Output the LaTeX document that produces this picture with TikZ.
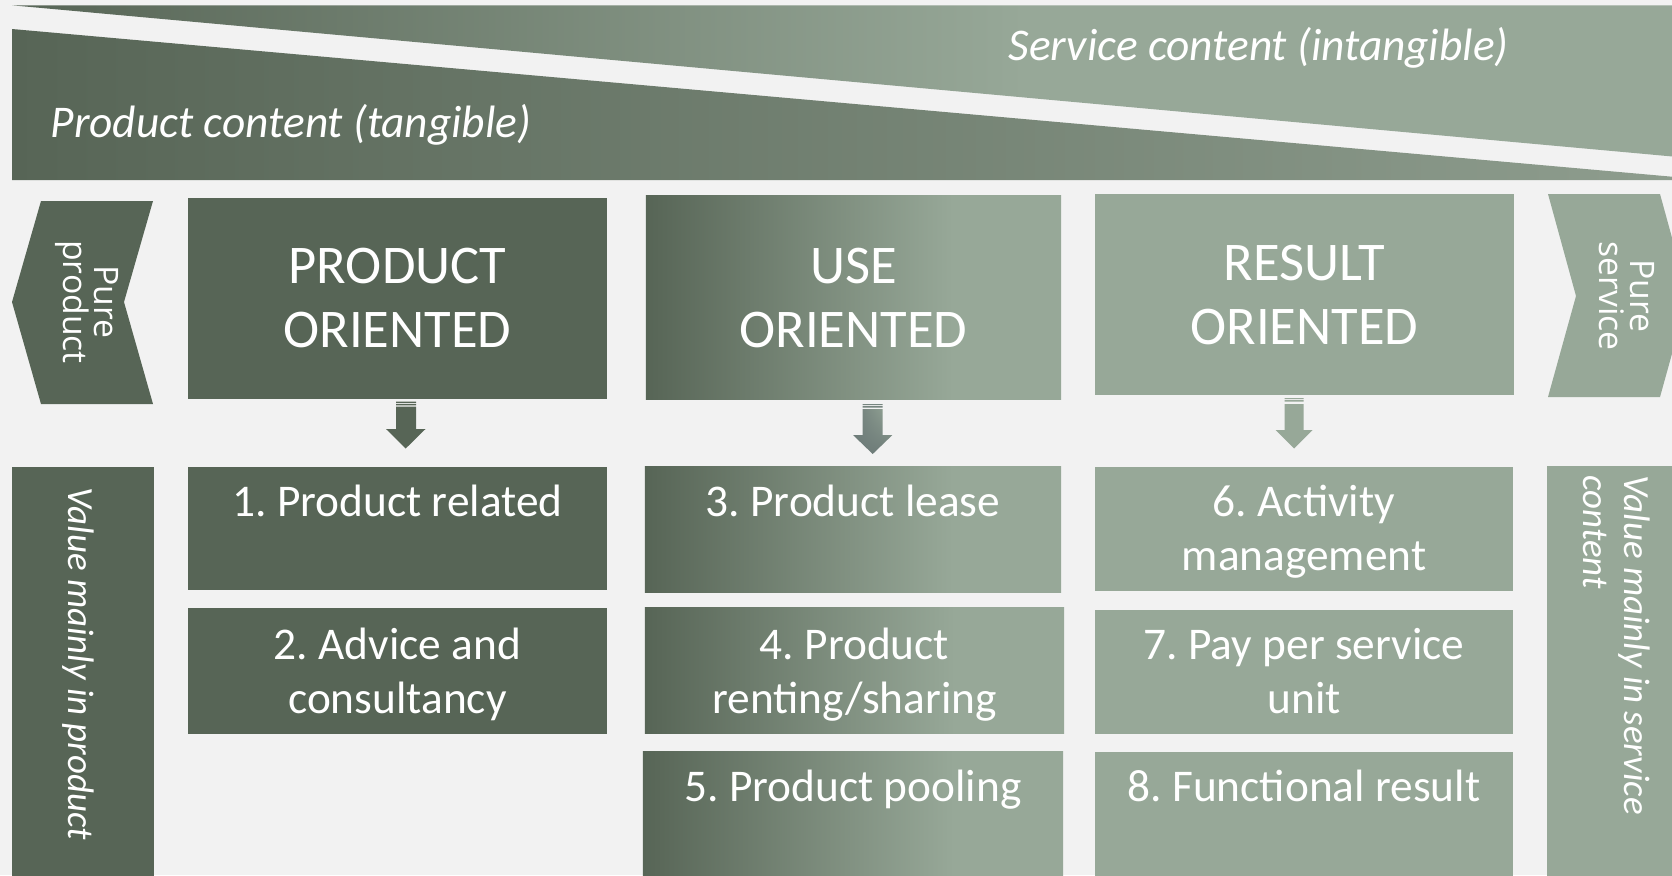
\documentclass[tikz,border=0pt]{standalone}
\usepackage{fontspec}
\setmainfont{Carlito}
\newfontfamily\pureFont{Open Sans}
\usepackage{tikz}
\usetikzlibrary{shadings}

\definecolor{ppdark}{HTML}{576556}
\definecolor{pplight}{HTML}{97A898}
\definecolor{ppmid}{HTML}{8E9D8E}
\definecolor{ppback}{HTML}{F2F2F2}
\definecolor{arrgrey}{HTML}{6E7C79}

\pgfdeclarehorizontalshading{servfade}{100bp}{color(0bp)=(ppdark); color(25bp)=(ppdark); color(55bp)=(pplight); color(100bp)=(pplight)}
\pgfdeclarehorizontalshading{usefade}{100bp}{color(0bp)=(ppdark); color(25bp)=(ppdark); color(62bp)=(pplight); color(100bp)=(pplight)}

\tikzset{
  headbox/.style={rectangle, inner sep=0pt, text=white, align=center,
                  font=\fontsize{15.5}{18.2}\selectfont},
  cellbox/.style={rectangle, inner sep=0pt},
  celltext/.style={text=white, align=flush center, text width=4.1cm, inner sep=0pt,
                   anchor=base, font=\fontsize{12.9}{15.3}\selectfont\frenchspacing},
  bandtext/.style={text=white, inner sep=0pt, anchor=base west,
                   font=\fontsize{12.9}{15}\selectfont\itshape},
  sidetext/.style={text=white, inner sep=0pt, rotate=-90,
                   font=\fontsize{10.5}{11.7}\selectfont\itshape},
  puretext/.style={text=white, inner sep=0pt, rotate=-90, align=center,
                   font=\pureFont\fontsize{9.6}{8.8}\selectfont},
  usefill/.style={shade, shading=usefade}
}

\begin{document}
\begin{tikzpicture}[x=0.01cm, y=-0.01cm]
        \useasboundingbox (0,0) rectangle (1672,875);
        \clip (0,0) rectangle (1672,875);
        \fill [ppback] (0,0) rectangle (1672,875);                              %background
        % top bands
        \shade [shading=servfade] (12,5.3) -- (1700,5.3) -- (1700,159) -- cycle;
        \shade [left color=ppdark, right color=ppmid]
               (12,29) -- (1672,176.7) -- (1672,180) -- (12,180) -- cycle;
        \node [bandtext] (prodcontent) at (50,137)  {Product content (tangible)};
        \node [bandtext] (servcontent) at (1008,60) {Service content (intangible)};
        % side chevrons
        \fill [ppdark]  (41,201) -- (153,201) -- (124,302) -- (153,404) -- (41,404) -- (12,302) -- cycle;
        \node [puretext] (pureprod) at (87,302) {Pure\\product};
        \fill [pplight] (1548,194) -- (1660,194) -- (1688,296) -- (1660,397) -- (1548,397) -- (1576,296) -- cycle;
        \node [puretext] (pureserv) at (1627,296) {Pure\\service};
        % headings
        \node [headbox, fill=ppdark, minimum width=4.19cm, minimum height=2.01cm]
              (prodhead) at (397.5,298.3)  {PRODUCT\\ORIENTED};
        \node [headbox, usefill, minimum width=4.15cm, minimum height=2.03cm]
              (usehead)  at (853.5,297.5)  {USE\\ORIENTED};
        \node [headbox, fill=pplight, minimum width=4.19cm, minimum height=2.01cm]
              (reshead)  at (1304.5,294.5) {RESULT\\ORIENTED};
        % block arrows
        \fill [ppdark] (386,429) -- (396,429) -- (396,406.5) -- (416,406.5) -- (416,429)
                       -- (425.5,429) -- (405.7,448.5) -- cycle;
        \fill [ppdark] (396,401.7) rectangle (416,402.8) (396,403.8) rectangle (416,405.3);
        \shade [upper right=pplight, upper left=arrgrey, lower left=arrgrey, lower right=arrgrey]
                       (853,435) -- (862.7,435) -- (862.7,409) -- (882.7,409) -- (882.7,435)
                       -- (892.4,435) -- (872.7,454) -- cycle;
        \fill [arrgrey!80!pplight] (862.7,404) rectangle (882.7,405.1) (862.7,406.1) rectangle (882.7,407.6);
        \fill [pplight] (1275.5,430) -- (1284.5,430) -- (1284.5,404) -- (1303.5,404) -- (1303.5,430)
                       -- (1312.5,430) -- (1294,448.5) -- cycle;
        \fill [pplight] (1284.5,398) rectangle (1303.5,399.1) (1284.5,400.1) rectangle (1303.5,401.6);
        % product oriented cells
        \node [cellbox, fill=ppdark, minimum width=4.19cm, minimum height=1.23cm] (prodone) at (397.5,528.5) {};
        \node [celltext] (prodonetxt) at ([yshift=-5mm]prodone.north) {1. Product related};
        \node [cellbox, fill=ppdark, minimum width=4.19cm, minimum height=1.26cm] (prodtwo) at (397.5,671) {};
        \node [celltext] (prodtwotxt) at ([yshift=-5.2mm]prodtwo.north) {2. Advice and\\consultancy};
        % use oriented cells
        \node [cellbox, usefill, minimum width=4.16cm, minimum height=1.25cm] (useone) at (853,529.5) {};
        \node [celltext] (useonetxt) at ([yshift=-5mm]useone.north) {3. Product lease};
        \node [cellbox, usefill, minimum width=4.19cm, minimum height=1.25cm] (usetwo) at (854.5,670.5) {};
        \node [celltext] (usetwotxt) at ([yshift=-5.2mm]usetwo.north) {4. Product\\renting/sharing};
        \node [cellbox, usefill, minimum width=4.20cm, minimum height=1.35cm] (usethree) at (853,819.5) {};
        \node [celltext] (usethreetxt) at ([yshift=-5mm]usethree.north) {5. Product pooling};
        % result oriented cells
        \node [cellbox, fill=pplight, minimum width=4.18cm, minimum height=1.24cm] (resone) at (1304,529) {};
        \node [celltext] (resonetxt) at ([yshift=-5mm]resone.north) {6. Activity\\management};
        \node [cellbox, fill=pplight, minimum width=4.18cm, minimum height=1.24cm] (restwo) at (1304,672) {};
        \node [celltext] (restwotxt) at ([yshift=-5mm]restwo.north) {7. Pay per service\\unit};
        \node [cellbox, fill=pplight, minimum width=4.18cm, minimum height=1.35cm] (resthree) at (1304,820) {};
        \node [celltext] (resthreetxt) at ([yshift=-5mm]resthree.north) {8. Functional result};
        % value panels
        \node [cellbox, fill=ppdark, minimum width=1.42cm, minimum height=4.2cm] (valprod) at (83,677) {};
        \node [sidetext, anchor=base west] (valprodtxt) at (68.3,487) {Value mainly in product};
        \node [cellbox, fill=pplight, minimum width=1.43cm, minimum height=4.21cm] (valserv) at (1618.5,676.5) {};
        \node [sidetext, anchor=north west, align=left] (valservtxt) at (1651,475) {Value mainly in service\\content};
\end{tikzpicture}
\end{document}
